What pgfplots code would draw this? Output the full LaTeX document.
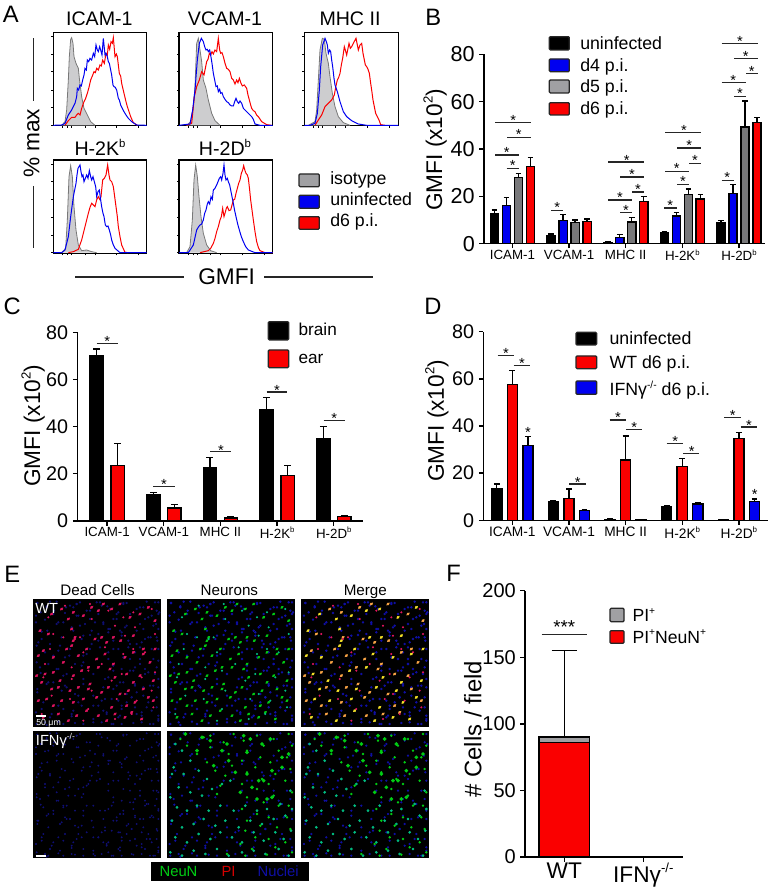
\documentclass[border=0pt]{standalone}
\usepackage{fontspec}
\setmainfont{Liberation Sans}
\usepackage{pgfplots}
\usepackage{pgfplotstable}
\pgfplotsset{compat=1.18}
\definecolor{hgray}{RGB}{205,205,207}
\definecolor{hgline}{RGB}{120,120,120}
\definecolor{pblue}{RGB}{0,0,240}
\definecolor{pred}{RGB}{250,0,0}
\definecolor{bgray}{RGB}{120,120,122}
\definecolor{lgray}{RGB}{160,160,163}
\definecolor{cellred}{RGB}{225,20,95}
\definecolor{cellblue}{RGB}{15,15,165}
\definecolor{dimblue}{RGB}{15,15,115}
\definecolor{cellgreen}{RGB}{0,205,20}
\definecolor{teal2}{RGB}{0,190,130}
\definecolor{yell}{RGB}{245,225,40}
\definecolor{orng}{RGB}{250,165,70}
\newcommand{\fs}[1]{\fontsize{#1}{#1}\selectfont}
\newcommand{\up}[1]{\raisebox{0.42em}{\scalebox{0.58}{#1}}}
% ---------- bar data
\pgfplotstableread{
g a ae b be c ce d de
0 12.8 1.4 16.2 3.2 27.9 1.8 32.5 4.0
1 3.5 0.6 9.7 2.7 8.9 1.1 9.3 1.1
2 0.5 0.2 2.5 1.3 9.2 1.9 17.9 2.0
3 4.6 0.4 11.7 1.5 20.8 2.3 18.9 1.9
4 8.7 1.2 21.3 3.7 49.2 11.1 51.1 2.3
}\tabB
\pgfplotstableread{
g a ae b be
0 70.1 2.8 23.5 9.4
1 11.3 0.7 5.5 1.6
2 22.8 4.1 1.3 0.5
3 47.1 5.3 19.2 4.3
4 34.8 5.2 1.8 0.5
}\tabC
\pgfplotstableread{
g a ae b be c ce
0 13.6 1.8 57.5 6.0 31.8 3.7
1 7.9 0.6 9.3 4.0 4.1 0.6
2 0.4 0.2 25.6 10.2 0.3 0.1
3 5.8 0.3 22.8 3.3 6.9 0.4
4 0.3 0.1 34.6 2.6 8.1 0.9
}\tabD
% ---------- cell positions in the micrographs (box 0..383)
\pgfplotstableread{
x y
55 45
105 60
150 50
195 35
235 30
290 55
345 25
20 95
115 90
120 125
205 115
240 115
300 110
15 170
60 175
115 140
160 150
215 165
275 175
330 165
365 150
35 225
80 245
145 215
195 205
245 235
300 250
360 245
55 270
110 275
165 270
225 265
285 275
345 295
40 300
85 305
150 300
235 325
305 310
30 355
105 365
160 335
220 365
275 355
325 360
}\redA
\pgfplotstableread{
x y
85 30
120 40
175 25
210 15
260 15
320 45
365 65
45 105
125 115
100 150
185 120
220 130
262 125
330 150
30 155
90 190
135 170
190 180
240 195
300 160
350 190
10 230
60 220
120 230
165 205
230 210
280 225
320 230
25 250
75 265
135 265
170 255
205 280
260 285
330 270
15 305
60 320
120 310
190 295
280 320
360 305
75 345
130 350
195 350
245 345
295 340
}\redB
\pgfplotstableread{
x y
12 12
40 22
70 8
98 25
130 15
160 35
190 10
222 22
255 40
280 12
310 30
340 8
370 35
8 50
35 62
75 70
95 42
140 80
170 60
210 75
250 60
275 85
320 75
355 50
375 90
25 120
50 135
85 115
108 170
150 110
175 95
230 90
265 100
310 135
345 115
372 125
10 140
45 195
75 155
125 195
150 170
200 145
255 150
290 135
320 195
370 205
20 205
70 210
100 225
150 240
180 225
215 240
265 210
305 205
345 220
375 265
12 270
45 250
95 260
125 285
180 290
215 300
250 260
310 280
350 260
370 325
25 330
55 345
90 330
120 335
145 320
180 320
210 335
255 305
295 295
340 325
10 375
40 378
75 368
115 352
150 375
180 360
240 375
265 330
310 345
350 375
375 360
}\blueL
\pgfplotstableread{
x y
55 10
230 15
250 25
310 25
130 30
180 40
285 40
240 65
185 90
345 80
205 125
315 120
240 130
290 150
275 150
345 110
315 200
300 205
270 205
220 185
255 170
165 60
365 70
140 105
90 60
105 20
}\ifnA
\pgfplotstableread{
x y
25 40
45 60
70 90
20 110
15 130
50 130
95 120
120 145
35 170
70 185
10 200
105 195
135 175
165 160
190 150
30 230
60 240
90 225
125 240
160 225
200 240
235 225
270 240
300 235
340 220
370 180
15 270
45 290
80 280
110 265
145 285
175 270
215 290
250 270
285 280
320 265
355 255
375 235
25 320
60 335
95 310
130 325
160 305
195 320
225 335
260 305
290 330
325 305
350 325
372 300
10 365
45 375
80 360
115 370
150 355
185 375
225 365
260 360
295 370
335 355
365 375
}\ifnB
\pgfplotsset{
 barbase/.style={scale only axis, axis lines=left, clip=false,
   axis line style={-,line width=1.1pt,black},
   tick style={line width=1pt,black}, tick align=outside,
   major tick length=3.4pt, ymin=0,
   /pgf/number format/assume math mode=true},
 panel/.style={barbase, ymax=80, ytick={0,20,40,60,80}, xtick={0,1,2,3,4},
   xticklabels={ICAM-1,VCAM-1,MHC II,H-2K\up{b},H-2D\up{b}},
   xticklabel style={font=\fs{10}, inner sep=0pt, yshift=-1pt},
   ylabel={GMFI (x10\up{2})}},
 hist/.style={scale only axis, y dir=reverse, clip=true,
   axis line style={line width=0.9pt,black},
   tick style={line width=0.4pt,black}, tick align=outside, major tick length=1.5pt,
   xticklabels={}, yticklabels={}, xtick pos=bottom, ytick pos=left,
   width=70pt, height=70pt},
 isoh/.style={draw=hgline, fill=hgray, line width=0.6pt},
 blueh/.style={draw=pblue, line width=0.75pt},
 redh/.style={draw=pred, line width=0.75pt},
 cell/.style={scale only axis, hide axis, xmin=0,xmax=383,ymin=0,ymax=383,
   y dir=reverse, width=95.75pt, height=95.75pt, clip=true},
 dots/.style={only marks, mark=*, mark size=#1, mark options={draw=none,rotate=40,xscale=1.5}},
 sdots/.style={only marks, mark=*, mark size=#1, mark options={draw=none}},
 bar/.style n args={3}{ybar, fill=#1, draw=black, line width=1.05pt, bar width=#2, bar shift=0pt,
   error bars/.cd, y dir=plus, y explicit,
   error bar style={line width=1.05pt,black},
   error mark options={rotate=90,mark size=#3,line width=1.05pt,black}}
}
\newcommand{\sg}[3]{\draw[line width=0.95pt,black!85] (#1,#3)--(#2,#3);}
\newcommand{\st}[2]{\node[anchor=base,inner sep=0pt,font=\fs{11},yshift=-6.4pt] at (#1,#2) {*};}
\newcommand{\lgd}[9]{\draw[line width=0.95pt,black!85,fill=#5,rounded corners=0.8pt] (#1,#2) rectangle (#3,#4);
  \node[anchor=base west,inner sep=0pt,font=\fs{#9}] at (#6,#7) {#8};}
\begin{document}
\begin{tikzpicture}
\path[use as bounding box] (0,0) rectangle (578.25pt,668.25pt);

% ================= PANEL A
\begin{axis}[hist, at={(40pt,574pt)}, anchor=south west, xmin=160,xmax=440,ymin=97,ymax=377,
  ytick={110,162,215,270,323,376}, xtick={188,203,215,255,285,350,415}]
\addplot[isoh] coordinates {(185,376)(195,365)(200,330)(205,240)(208,170)(212,118)(215,113)(219,130)(222,170)(228,190)(235,205)(238,235)(245,290)(252,325)(262,345)(272,365)(285,376)};
\addplot[redh] coordinates {(195,376)(205,362)(215,352)(225,352)(230,345)(235,340)(240,345)(245,325)(252,305)(257,295)(262,280)(267,262)(272,240)(277,228)(282,215)(286,218)(290,205)(295,210)(300,195)(304,198)(308,180)(313,190)(318,160)(322,165)(325,135)(329,148)(333,125)(337,130)(340,113)(345,170)(349,162)(352,170)(355,195)(358,220)(362,228)(365,250)(372,280)(378,305)(382,320)(387,335)(392,350)(400,368)(412,376)};
\addplot[blueh] coordinates {(160,376)(185,375)(195,370)(205,345)(215,330)(225,310)(230,290)(232,265)(236,270)(240,255)(244,258)(248,240)(252,225)(255,205)(259,210)(262,180)(266,185)(270,175)(275,180)(280,160)(284,170)(288,135)(292,150)(295,155)(299,140)(302,150)(306,165)(310,115)(315,165)(318,160)(322,170)(325,185)(328,190)(332,210)(335,225)(339,255)(342,260)(346,262)(350,270)(353,285)(355,295)(358,300)(362,315)(367,325)(372,335)(378,345)(385,355)(395,365)(410,375)(440,376)};
\end{axis}
\begin{axis}[hist, at={(134.25pt,574pt)}, anchor=south west, width=70.25pt, xmin=537,xmax=818,ymin=97,ymax=377,
  ytick={110,162,215,270,323,376}, xtick={565,580,592,632,662,727,792}]
\addplot[isoh] coordinates {(560,376)(572,365)(580,320)(585,260)(590,130)(595,115)(600,150)(605,185)(610,240)(618,265)(625,300)(635,340)(645,362)(660,376)};
\addplot[redh] coordinates {(560,376)(575,370)(583,290)(590,260)(598,240)(605,215)(612,225)(620,185)(624,178)(628,160)(632,165)(636,155)(640,162)(645,150)(650,155)(655,115)(659,150)(662,160)(666,158)(670,170)(675,190)(680,205)(685,208)(690,215)(695,235)(700,240)(705,252)(710,240)(714,248)(718,235)(723,250)(727,258)(733,255)(740,265)(744,285)(748,300)(752,315)(755,325)(760,332)(765,335)(770,345)(775,350)(785,365)(800,374)(815,376)};
\addplot[blueh] coordinates {(537,376)(570,372)(578,330)(585,270)(592,180)(598,130)(604,115)(610,125)(614,140)(618,150)(622,148)(625,155)(629,150)(632,165)(636,190)(640,220)(644,240)(648,260)(652,258)(655,275)(659,268)(662,280)(666,278)(670,290)(675,298)(680,305)(685,308)(690,315)(695,318)(700,318)(704,305)(708,295)(712,305)(716,310)(720,303)(725,310)(730,325)(735,330)(740,335)(745,340)(750,345)(755,350)(760,358)(765,372)(780,376)(818,376)};
\end{axis}
\begin{axis}[hist, at={(228.25pt,574pt)}, anchor=south west, width=70.5pt, xmin=913,xmax=1195,ymin=97,ymax=377,
  ytick={110,162,215,270,323,376}, xtick={940,955,967,1007,1037,1102,1167}]
\addplot[isoh] coordinates {(925,376)(945,365)(950,330)(955,240)(960,150)(967,115)(973,118)(978,160)(985,190)(990,230)(997,280)(1005,320)(1015,350)(1030,368)(1050,376)};
\addplot[redh] coordinates {(945,376)(955,360)(965,345)(975,320)(985,310)(995,300)(1003,285)(1007,262)(1012,240)(1016,232)(1020,220)(1024,195)(1028,175)(1033,140)(1036,150)(1040,165)(1044,145)(1047,130)(1051,145)(1055,140)(1061,128)(1068,115)(1072,135)(1075,150)(1080,135)(1085,130)(1089,160)(1092,175)(1096,195)(1100,200)(1104,208)(1108,220)(1112,250)(1115,270)(1119,300)(1123,320)(1127,340)(1132,350)(1137,360)(1142,374)(1155,376)};
\addplot[blueh] coordinates {(913,376)(930,376)(945,370)(952,340)(958,270)(962,200)(968,135)(975,115)(979,125)(982,135)(985,160)(989,150)(992,155)(995,180)(998,200)(1002,235)(1005,255)(1012,275)(1020,305)(1030,335)(1040,350)(1055,362)(1075,372)(1100,376)(1195,376)};
\end{axis}
\begin{axis}[hist, at={(40pt,478.25pt)}, anchor=south west, xmin=160,xmax=440,ymin=480,ymax=760,
  ytick={492,545,597,651,705,758}, xtick={188,203,215,255,285,350,415}]
\addplot[isoh] coordinates {(185,758)(197,745)(202,660)(207,530)(212,497)(217,530)(222,620)(228,690)(235,735)(245,752)(260,750)(275,755)(290,758)};
\addplot[redh] coordinates {(205,758)(220,755)(235,748)(245,720)(250,700)(255,680)(260,660)(265,640)(270,622)(275,610)(280,615)(285,620)(290,600)(295,590)(299,598)(303,590)(306,560)(308,540)(313,535)(318,525)(323,495)(327,525)(330,540)(335,545)(340,560)(344,590)(348,620)(352,650)(355,680)(360,710)(365,735)(375,757)(385,758)};
\addplot[blueh] coordinates {(160,758)(185,758)(195,750)(205,710)(212,650)(220,590)(224,570)(228,550)(231,525)(234,505)(240,495)(243,515)(246,530)(249,525)(252,545)(256,535)(260,525)(264,535)(268,512)(272,530)(275,540)(279,530)(283,545)(287,560)(290,590)(294,575)(298,570)(302,600)(305,620)(309,640)(312,650)(316,675)(320,680)(324,678)(328,690)(332,705)(335,720)(340,735)(345,745)(360,758)(440,758)};
\end{axis}
\begin{axis}[hist, at={(134.25pt,478.25pt)}, anchor=south west, width=70.25pt, xmin=537,xmax=818,ymin=480,ymax=760,
  ytick={492,545,597,651,705,758}, xtick={565,580,592,632,662,727,792}]
\addplot[isoh] coordinates {(560,758)(570,740)(577,660)(582,540)(587,495)(592,530)(597,590)(603,650)(610,700)(620,735)(632,752)(650,758)};
\addplot[redh] coordinates {(600,758)(625,752)(632,745)(640,730)(645,715)(650,695)(655,680)(660,660)(664,650)(668,625)(672,650)(675,640)(679,625)(682,620)(687,632)(692,630)(696,615)(700,600)(704,598)(708,580)(712,565)(716,550)(720,540)(724,520)(728,510)(731,497)(735,512)(738,520)(742,525)(745,535)(749,570)(752,600)(756,630)(760,660)(765,695)(770,725)(775,742)(780,752)(795,758)(818,758)};
\addplot[blueh] coordinates {(537,758)(565,758)(580,735)(590,690)(596,680)(600,675)(605,672)(610,660)(614,640)(618,630)(622,612)(625,605)(629,612)(633,590)(637,598)(640,570)(645,565)(650,555)(654,545)(658,535)(662,530)(665,540)(669,520)(672,495)(675,525)(678,540)(682,535)(685,545)(689,555)(692,570)(696,590)(700,610)(704,632)(708,650)(713,672)(718,690)(724,710)(730,725)(737,740)(745,750)(765,758)(818,758)};
\end{axis}
\begin{scope}[x=0.25pt,y=-0.25pt,shift={(0pt,668.25pt)}]
\node[anchor=base west,inner sep=0pt,font=\fs{17.8}] at (8,68) {A};
\foreach \t/\c/\bb in {ICAM-1/298/78,VCAM-1/675/78,MHC II/1050/78}{
  \node[anchor=base,inner sep=0pt,font=\fs{14.7}] at (\c,\bb) {\t};}
\node[anchor=base,inner sep=0pt,font=\fs{14.7}] at (300,468) {H-2K\up{b}};
\node[anchor=base,inner sep=0pt,font=\fs{14.7}] at (675,468) {H-2D\up{b}};
\draw[line width=0.95pt,black!85] (100,115)--(100,303) (100,558)--(100,745) (225,831)--(552,831) (793,831)--(1120,831);
\node[rotate=90,inner sep=0pt,font=\fs{17}] at (95,430) {\% max};
\node[inner sep=0pt,font=\fs{17}] at (680,830) {GMFI};
\lgd{897}{522}{958}{560}{lgray}{990}{555}{isotype}{13.3}
\lgd{897}{586}{958}{625}{pblue}{990}{618}{uninfected}{13.3}
\lgd{897}{650}{958}{688}{pred}{990}{680}{d6 p.i.}{13.3}
\end{scope}

% ================= PANEL B
\begin{axis}[panel, at={(363pt,485.5pt)}, anchor=south west, width=210.75pt, height=142.05pt,
  xmin=-0.503, xmax=4.46, yticklabel style={font=\fs{16.2}},
  y label style={at={(axis description cs:-0.174,0.495)},anchor=center,font=\fs{17}}]
\addplot[bar={black}{6.2pt}{2.1pt}] table[x expr=\thisrow{g}-0.3176,y=a,y error=ae] {\tabB};
\addplot[bar={pblue}{6.2pt}{2.1pt}] table[x expr=\thisrow{g}-0.1059,y=b,y error=be] {\tabB};
\addplot[bar={bgray}{6.2pt}{2.1pt}] table[x expr=\thisrow{g}+0.1059,y=c,y error=ce] {\tabB};
\addplot[bar={pred}{6.2pt}{2.1pt}] table[x expr=\thisrow{g}+0.3176,y=d,y error=de] {\tabB};
\end{axis}
\begin{scope}[x=0.25pt,y=-0.25pt,shift={(307.5pt,668.25pt)}]
\node[anchor=base west,inner sep=0pt,font=\fs{17.8}] at (45,77) {B};
\lgd{418}{110}{478}{150}{black}{510}{148}{uninfected}{13.3}
\lgd{418}{177}{478}{215}{pblue}{510}{215}{d4 p.i.}{13.3}
\lgd{418}{240}{478}{279}{lgray}{510}{278}{d5 p.i.}{13.3}
\lgd{418}{308}{478}{345}{pred}{510}{343}{d6 p.i.}{13.3}
\sg{255}{362}{367}\st{310}{350}
\sg{292}{362}{412}\st{326}{393}
\sg{255}{327}{465}\st{290}{447}
\sg{290}{327}{506}\st{308}{487}
\sg{424}{460}{632}\st{442}{613}
\sg{595}{702}{486}\st{650}{470}
\sg{630}{702}{531}\st{666}{513}
\sg{595}{665}{600}\st{630}{582}
\sg{666}{702}{576}\st{684}{558}
\sg{630}{666}{638}\st{648}{620}
\sg{765}{873}{398}\st{822}{382}
\sg{802}{873}{444}\st{838}{427}
\sg{765}{836}{514}\st{800}{496}
\sg{838}{873}{490}\st{855}{471}
\sg{802}{838}{554}\st{819}{535}
\sg{763}{800}{624}\st{781}{606}
\sg{935}{1043}{130}\st{990}{113}
\sg{972}{1043}{176}\st{1007}{158}
\sg{1008}{1043}{221}\st{1025}{203}
\sg{935}{1007}{248}\st{970}{230}
\sg{972}{1007}{289}\st{990}{271}
\sg{935}{972}{541}\st{952}{523}
\end{scope}

% ================= PANEL C
\begin{axis}[panel, at={(58pt,277.5pt)}, anchor=south west, width=214pt, height=141.5pt,
  xmin=-0.526, xmax=4.51, yticklabel style={font=\fs{14.8}},
  y label style={at={(axis description cs:-0.155,0.505)},anchor=center,font=\fs{17}}]
\addplot[bar={black}{10pt}{2.6pt}] table[x expr=\thisrow{g}-0.1853,y=a,y error=ae] {\tabC};
\addplot[bar={pred}{10pt}{2.6pt}] table[x expr=\thisrow{g}+0.1853,y=b,y error=be] {\tabC};
\end{axis}
\begin{scope}[x=0.25pt,y=-0.25pt,shift={(0pt,450.75pt)}]
\node[anchor=base west,inner sep=0pt,font=\fs{17.8}] at (10,75) {C};
\lgd{805}{95}{866}{150}{black}{895}{137}{brain}{12.9}
\lgd{805}{180}{866}{233}{pred}{895}{220}{ear}{12.9}
\sg{290}{354}{161}\st{322}{145}
\sg{460}{524}{590}\st{492}{574}
\sg{631}{694}{485}\st{663}{470}
\sg{800}{862}{306}\st{831}{290}
\sg{971}{1034}{392}\st{1003}{376}
\end{scope}

% ================= PANEL D
\begin{axis}[panel, at={(362.5pt,278pt)}, anchor=south west, width=213.75pt, height=141.5pt,
  xmin=-0.512, xmax=4.52, yticklabel style={font=\fs{14.8}},
  xticklabel style={font=\fs{10.3}},
  y label style={at={(axis description cs:-0.163,0.527)},anchor=center,font=\fs{17}}]
\addplot[bar={black}{7.6pt}{2.2pt}] table[x expr=\thisrow{g}-0.2747,y=a,y error=ae] {\tabD};
\addplot[bar={pred}{7.6pt}{2.2pt}] table[x=g,y=b,y error=be] {\tabD};
\addplot[bar={pblue}{7.6pt}{2.2pt}] table[x expr=\thisrow{g}+0.2747,y=c,y error=ce] {\tabD};
\end{axis}
\begin{scope}[x=0.25pt,y=-0.25pt,shift={(300pt,450.75pt)}]
\node[anchor=base west,inner sep=0pt,font=\fs{17.8}] at (72,75) {D};
\lgd{528}{127}{590}{165}{black}{628}{163}{uninfected}{13.3}
\lgd{528}{198}{590}{236}{pred}{628}{235}{WT d6 p.i.}{13.3}
\lgd{528}{273}{590}{313}{pblue}{628}{317}{IFNγ\up{-/-} d6 p.i.}{13.3}
\sg{293}{342}{196}\st{318}{180}
\sg{341}{389}{226}\st{366}{210}
\st{384}{417}
\sg{508}{557}{582}\st{533}{566}
\sg{629}{678}{390}\st{654}{373}
\sg{678}{726}{419}\st{703}{403}
\sg{800}{849}{461}\st{826}{445}
\sg{849}{897}{490}\st{875}{475}
\sg{973}{1022}{382}\st{998}{366}
\sg{1022}{1070}{411}\st{1047}{396}
\st{1064}{603}
\end{scope}

% ================= PANEL E
\fill[black] (25pt,123.25pt) rectangle ++(95.75pt,95.75pt);
\fill[black] (125.25pt,123.25pt) rectangle ++(95.75pt,95.75pt);
\fill[black] (226pt,123.25pt) rectangle ++(95.75pt,95.75pt);
\fill[black] (25pt,24.5pt) rectangle ++(95.75pt,95.75pt);
\fill[black] (125.25pt,24.5pt) rectangle ++(95.75pt,95.75pt);
\fill[black] (226pt,24.5pt) rectangle ++(95.75pt,95.75pt);
\begin{axis}[cell, at={(25pt,123.25pt)}, anchor=south west]
\addplot[sdots=0.6pt, color=dimblue] table {\blueL};
\addplot[sdots=0.6pt, color=dimblue] table[x=y,y=x] {\blueL};
\addplot[sdots=0.6pt, color=dimblue] table[x=y,y=x] {\ifnB};
\addplot[dots=0.8pt, color=cellred] table {\redA};
\addplot[dots=0.8pt, color=cellred] table {\redB};
\addplot[sdots=0.55pt, color=cellred] table[x=y,y=x] {\redA};
\end{axis}
\begin{axis}[cell, at={(125.25pt,123.25pt)}, anchor=south west]
\addplot[sdots=0.7pt, color=cellblue] table {\blueL};
\addplot[sdots=0.7pt, color=cellblue] table[x=y,y=x] {\blueL};
\addplot[sdots=0.7pt, color=cellblue] table[x=y,y=x] {\ifnB};
\addplot[dots=0.75pt, color=cellgreen] table {\redA};
\addplot[dots=0.75pt, color=cellgreen] table {\redB};
\addplot[sdots=0.55pt, color=teal2] table[x=y,y=x] {\redA};
\end{axis}
\begin{axis}[cell, at={(226pt,123.25pt)}, anchor=south west]
\addplot[sdots=0.7pt, color=cellblue] table {\blueL};
\addplot[sdots=0.7pt, color=cellblue] table[x=y,y=x] {\blueL};
\addplot[sdots=0.7pt, color=cellblue] table[x=y,y=x] {\ifnB};
\addplot[dots=0.8pt, color=yell] table {\redA};
\addplot[dots=0.8pt, color=orng] table {\redB};
\addplot[sdots=0.55pt, color=cellred] table[x=y,y=x] {\redA};
\end{axis}
\begin{axis}[cell, at={(25pt,24.5pt)}, anchor=south west]
\addplot[sdots=0.5pt, color=dimblue] table {\blueL};
\addplot[sdots=0.5pt, color=dimblue] table {\ifnB};
\addplot[sdots=0.5pt, color=dimblue] table[x=y,y=x] {\blueL};
\addplot[sdots=0.5pt, color=dimblue] table[x=y,y=x] {\ifnB};
\end{axis}
\begin{axis}[cell, at={(125.25pt,24.5pt)}, anchor=south west]
\addplot[sdots=0.6pt, color=cellblue] table {\blueL};
\addplot[sdots=0.6pt, color=cellblue] table[x=y,y=x] {\blueL};
\addplot[sdots=0.8pt, color=teal2] table {\ifnB};
\addplot[sdots=0.7pt, color=cellgreen] table[x=y,y=x] {\ifnB};
\addplot[sdots=1.2pt, color=cellgreen] table {\ifnA};
\end{axis}
\begin{axis}[cell, at={(226pt,24.5pt)}, anchor=south west]
\addplot[sdots=0.6pt, color=cellblue] table {\blueL};
\addplot[sdots=0.6pt, color=cellblue] table[x=y,y=x] {\blueL};
\addplot[sdots=0.8pt, color=teal2] table {\ifnB};
\addplot[sdots=0.7pt, color=cellgreen] table[x=y,y=x] {\ifnB};
\addplot[sdots=1.2pt, color=cellgreen] table {\ifnA};
\end{axis}
\begin{scope}[x=0.25pt,y=-0.25pt,shift={(0pt,240.75pt)}]
\node[anchor=base west,inner sep=0pt,font=\fs{17.8}] at (12,38) {E};
\foreach \t/\c in {Dead Cells/293,Neurons/688,Merge/1096}{
  \node[anchor=base,inner sep=0pt,font=\fs{11.4}] at (\c,78) {\t};}
\node[anchor=base west,inner sep=0pt,font=\fs{11},text=white] at (105,132) {WT};
\node[anchor=base west,inner sep=0pt,font=\fs{11},text=white] at (107,527) {IFNγ\up{-/-}};
\node[anchor=base west,inner sep=0pt,font=\fs{6.6},text=white] at (108,467) {50 μm};
\fill[white] (108,434) rectangle (138,440);
\fill[white] (108,854) rectangle (138,860);
\fill[black] (454,877) rectangle (927,933);
\node[anchor=base west,inner sep=0pt,font=\fs{11.1},text=cellgreen] at (478,920) {NeuN};
\node[anchor=base west,inner sep=0pt,font=\fs{11.1},text=pred!85!black] at (664,920) {PI};
\node[anchor=base west,inner sep=0pt,font=\fs{11.1},text=cellblue] at (772,920) {Nuclei};
\end{scope}

% ================= PANEL F
\begin{axis}[barbase, at={(393.75pt,25.5pt)}, anchor=south west, width=118.7pt, height=199.7pt,
  xmin=-0.498, xmax=1.506, ymax=200, ytick={0,50,100,150,200}, xtick={0,1},
  xticklabels={WT,IFNγ\up{-/-}}, xticklabel style={font=\fs{17},inner sep=0pt,yshift=-1pt},
  yticklabel style={font=\fs{15}}, ylabel={\# Cells / field},
  y label style={at={(axis description cs:-0.33,0.48)},anchor=center,font=\fs{17.9}}]
\addplot[bar={lgray}{38pt}{9.6pt}] coordinates {(0,90)+-(0,65) (1,0.5)+-(0,0)};
\addplot[ybar, fill=pred, draw=black, line width=1.05pt, bar width=38pt, bar shift=0pt]
 coordinates {(0,86) (1,0.3)};
\end{axis}
\begin{scope}[x=0.25pt,y=-0.25pt,shift={(315pt,240.75pt)}]
\node[anchor=base west,inner sep=0pt,font=\fs{17.8}] at (78,36) {F};
\lgd{570}{115}{612}{155}{lgray}{637}{155}{PI\up{+}}{13.2}
\lgd{570}{182}{612}{220}{pred}{637}{220}{PI\up{+}NeuN\up{+}}{13.2}
\sg{365}{502}{194}
\node[anchor=base,inner sep=0pt,font=\fs{14}] at (433,190) {***};
\end{scope}
\end{tikzpicture}
\end{document}
